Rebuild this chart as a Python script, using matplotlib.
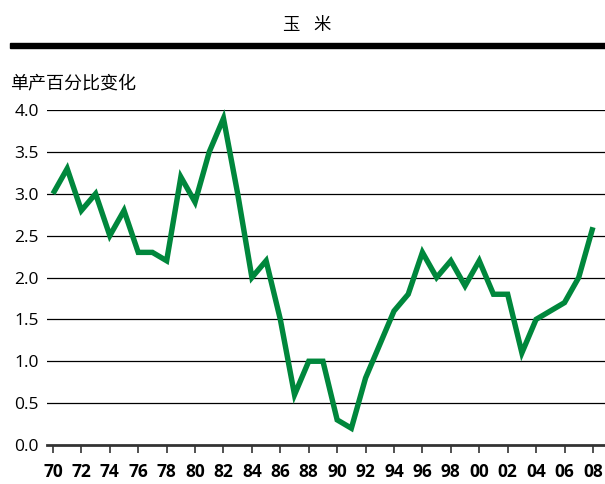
import matplotlib.pyplot as plt
from matplotlib.patches import Rectangle

plt.rcParams['font.family'] = ['Open Sans', 'Noto Sans CJK SC', 'DejaVu Sans']

years = list(range(1970, 2009))
values = [3.0, 3.3, 2.8, 3.0, 2.5, 2.8, 2.3, 2.3, 2.2, 3.2,
          2.9, 3.5, 3.9, 3.0, 2.0, 2.2, 1.5, 0.6, 1.0, 1.0,
          0.3, 0.2, 0.8, 1.2, 1.6, 1.8, 2.3, 2.0, 2.2, 1.9,
          2.2, 1.8, 1.8, 1.1, 1.5, 1.6, 1.7, 2.0, 2.6]
tick_years = list(range(1970, 2009, 2))
tick_labels = ["%02d" % (y % 100) for y in tick_years]
y_ticks = [0.0, 0.5, 1.0, 1.5, 2.0, 2.5, 3.0, 3.5, 4.0]

W, H = 605, 484
fig = plt.figure(figsize=(W / 100, H / 100), dpi=100)
ax = fig.add_axes([47 / W, 1 - 445 / H, 1 - 47 / W, 335 / H])

for yv in y_ticks[1:]:
    ax.axhline(yv, color='black', lw=0.9, zorder=1)

ax.plot(years, values, color='#00873c', lw=3.9, solid_joinstyle='miter',
        solid_capstyle='butt', zorder=3, clip_on=False)

ax.set_xlim(1969.58, 2008.85)
ax.set_ylim(0, 4.0)
ax.set_xticks(tick_years)
ax.set_xticklabels(tick_labels, fontweight='bold', fontsize=12.5)
ax.set_yticks(y_ticks)
ax.set_yticklabels(["%.1f" % v for v in y_ticks], fontsize=12.5)
ax.tick_params(axis='x', direction='out', length=6, width=1.2, color='#333333', pad=7)
ax.tick_params(axis='y', length=0, pad=6)

for s in ['top', 'right', 'left']:
    ax.spines[s].set_visible(False)
ax.spines['bottom'].set_color('#333333')
ax.spines['bottom'].set_linewidth(2)

fig.text(291 / W, 1 - 25 / H, "玉", ha='center', va='center', fontsize=12.5,
         family=['Noto Sans CJK SC'])
fig.text(322 / W, 1 - 25 / H, "米", ha='center', va='center', fontsize=12.5,
         family=['Noto Sans CJK SC'])
fig.patches.append(Rectangle((10 / W, 1 - 48 / H), 1 - 10 / W, 5 / H,
                             transform=fig.transFigure, color='black', figure=fig))
fig.text(10 / W, 1 - 83 / H, "单产百分比变化", ha='left', va='center', fontsize=13,
         family=['Noto Sans CJK SC'])

fig.savefig('out.png', dpi=100)
